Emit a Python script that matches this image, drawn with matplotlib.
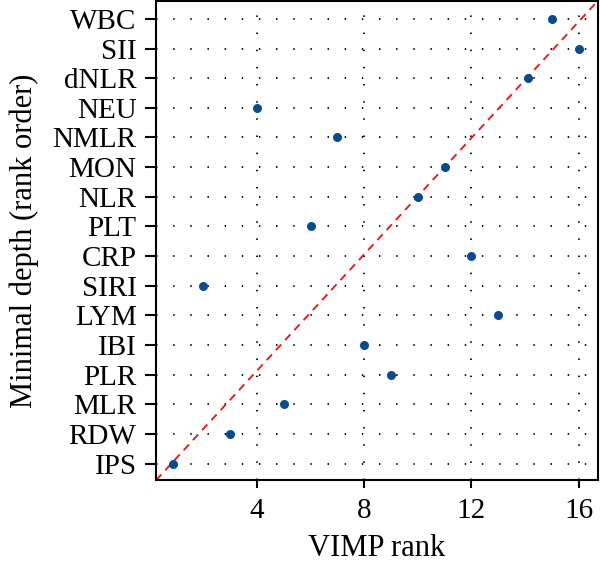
import matplotlib
matplotlib.use("Agg")
import matplotlib.pyplot as plt

plt.rcParams['font.family'] = ['Liberation Serif', 'DejaVu Serif']

# variables, top to bottom in the figure (minimal depth rank order)
variables = ["WBC", "SII", "dNLR", "NEU", "NMLR", "MON", "NLR", "PLT",
             "CRP", "SIRI", "LYM", "IBI", "PLR", "MLR", "RDW", "IPS"]
vimp_rank = [15, 16, 14.1, 4, 7, 11, 10, 6, 12, 2, 13, 8, 9, 5, 3, 0.87]
depth_rank = list(range(len(variables), 0, -1))
x_ticks = [4, 8, 12, 16]

fig = plt.figure(figsize=(6, 5.65), dpi=100)
ax = fig.add_axes([0.26, 0.150, 0.736, 0.848])

ax.set_xlim(0.23, 16.71)
ax.set_ylim(0.436, 16.6)

# dotted grid
for y in depth_rank:
    ax.axhline(y, color='black', lw=1.3, dashes=(0.8, 8.7), zorder=1)
for x in x_ticks:
    ax.axvline(x, color='black', lw=1.3, dashes=(0.8, 8.7), zorder=1)

# reference diagonal
ax.plot([0, 1], [0, 1], transform=ax.transAxes, color='#e3201b',
        lw=1.4, dashes=(4, 3), zorder=2)

ax.scatter(vimp_rank, depth_rank, s=30, color='#0b4a8b', zorder=3)

ax.set_yticks(depth_rank)
ax.set_yticklabels(variables)
ax.set_xticks(x_ticks)
ax.tick_params(axis='both', labelsize=21, width=1.5, direction='out')
ax.tick_params(axis='y', length=8, pad=6)
ax.tick_params(axis='x', length=6, pad=7)
for sp in ax.spines.values():
    sp.set_linewidth(1.5)

ax.set_xlabel("VIMP rank", fontsize=22, labelpad=7)
ax.set_ylabel("Minimal depth (rank order)", fontsize=22, labelpad=10)

fig.savefig("out.png", dpi=100)
